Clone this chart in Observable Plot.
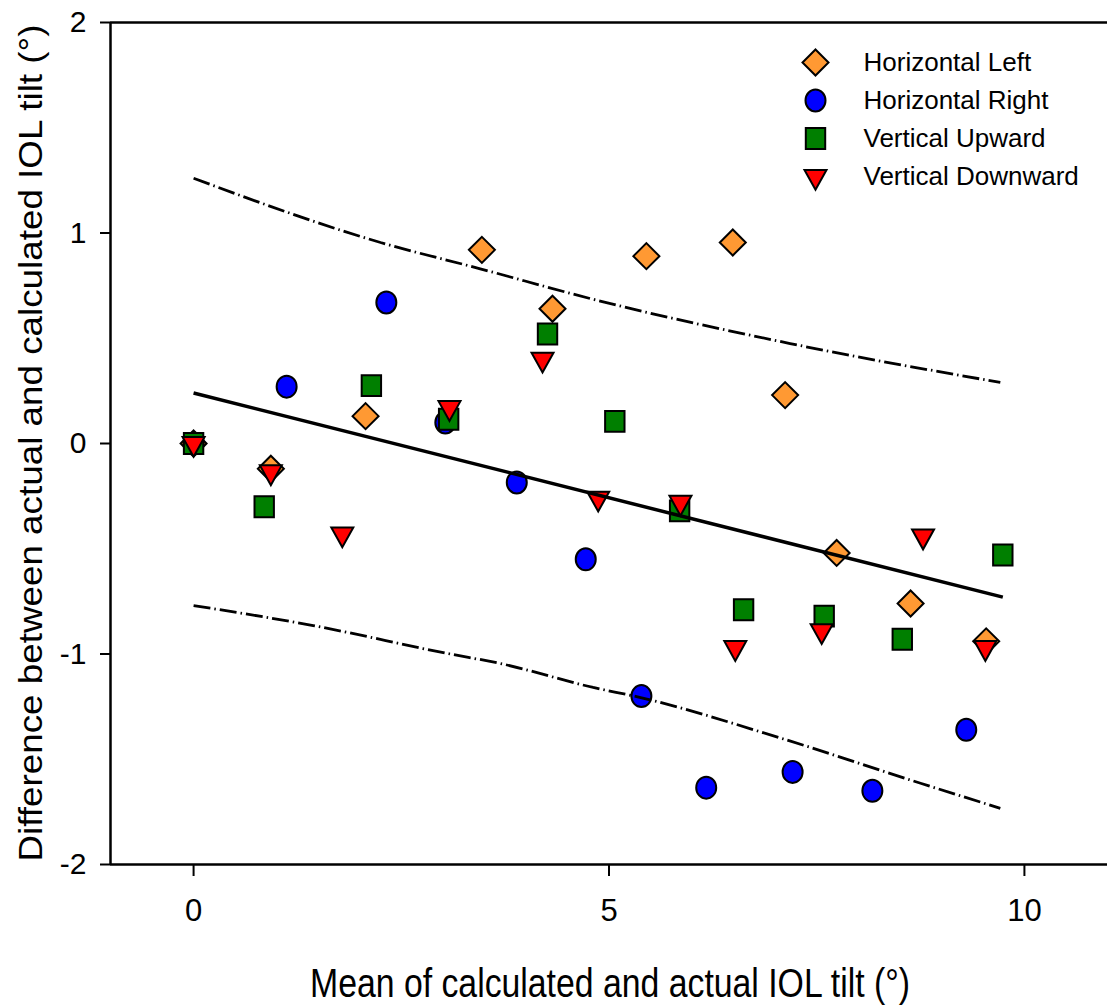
<!DOCTYPE html>
<html>
<head>
<meta charset="utf-8">
<script src="https://cdn.jsdelivr.net/npm/d3@7"></script>
<script src="https://cdn.jsdelivr.net/npm/@observablehq/plot@0.6"></script>
<style>
html, body { margin: 0; padding: 0; background: #fff; }
#chart { width: 1107px; height: 1005px; }
</style>
</head>
<body>
<div id="chart"></div>
<script>
// ---- data ----
const seriesNames = ["Horizontal Left", "Horizontal Right", "Vertical Upward", "Vertical Downward"];
const seriesColors = ["#FF9933", "#0000FF", "#007F00", "#FF0000"];

const hlX = [0, 0.93, 2.07, 3.47, 4.32, 5.45, 6.49, 7.12, 7.74, 8.63, 9.54];
const hlY = [0, -0.12, 0.13, 0.92, 0.64, 0.89, 0.955, 0.23, -0.52, -0.76, -0.94];

const hrX = [0, 1.12, 2.32, 3.03, 3.89, 4.72, 5.39, 6.17, 7.21, 8.17, 9.30];
const hrY = [0, 0.27, 0.67, 0.10, -0.185, -0.55, -1.20, -1.635, -1.56, -1.65, -1.36];

const vuX = [0, 0.85, 2.14, 3.07, 4.26, 5.07, 5.85, 6.62, 7.59, 8.53, 9.74];
const vuY = [0, -0.30, 0.275, 0.115, 0.52, 0.105, -0.32, -0.79, -0.82, -0.93, -0.53];

const vdX = [0, 0.93, 1.79, 3.08, 4.20, 4.87, 5.86, 6.52, 7.56, 8.78, 9.53];
const vdY = [0, -0.135, -0.43, 0.17, 0.40, -0.26, -0.28, -0.97, -0.89, -0.44, -0.97];

const regX = [0, 9.74];
const regY = [0.24, -0.73];

const upX = [0, 2.25, 3.45, 4.81, 7.18, 9.71];
const upY = [1.26, 0.955, 0.83, 0.685, 0.475, 0.29];

const loX = [0, 1.44, 3.06, 3.69, 4.81, 5.38, 7.07, 8.75, 9.71];
const loY = [-0.77, -0.865, -0.998, -1.045, -1.159, -1.207, -1.40, -1.614, -1.733];

const xTicks = [0, 5, 10];
const yTicks = [-2, -1, 0, 1, 2];
const xTitle = "Mean of calculated and actual IOL tilt (°)";
const yTitle = "Difference between actual and calculated IOL tilt (°)";

// ---- symbols ----
const symDiamond = { draw(c, s) { const r = Math.sqrt(s / Math.PI); c.moveTo(0, -r); c.lineTo(r, 0); c.lineTo(0, r); c.lineTo(-r, 0); c.closePath(); } };
const symEllipse = { draw(c, s) { const rx = Math.sqrt(s / Math.PI), ry = rx * 1.1, k = 0.5523;
  c.moveTo(rx, 0);
  c.bezierCurveTo(rx, k * ry, k * rx, ry, 0, ry);
  c.bezierCurveTo(-k * rx, ry, -rx, k * ry, -rx, 0);
  c.bezierCurveTo(-rx, -k * ry, -k * rx, -ry, 0, -ry);
  c.bezierCurveTo(k * rx, -ry, rx, -k * ry, rx, 0);
  c.closePath(); } };
const symSquare = { draw(c, s) { const r = Math.sqrt(s / Math.PI), h = r * 1.08; c.moveTo(-r, -h); c.lineTo(r, -h); c.lineTo(r, h); c.lineTo(-r, h); c.closePath(); } };
const symTriDown = { draw(c, s) { const r = Math.sqrt(s / Math.PI), h = r * 1.8; c.moveTo(-r, -h / 3); c.lineTo(r, -h / 3); c.lineTo(0, 2 * h / 3); c.closePath(); } };

const symbols = [symDiamond, symEllipse, symSquare, symTriDown];
const sizes = [13, 10, 9.7, 11];
const seriesXs = [hlX, hrX, vuX, vdX];
const seriesYs = [hlY, hrY, vuY, vdY];

const toRows = (xs, ys) => xs.map((x, i) => ({ x, y: ys[i] }));

const font = "'Liberation Sans', Arial, Helvetica, sans-serif";
const narrow = "'Liberation Sans Narrow', 'Arial Narrow', 'Liberation Sans', Arial, sans-serif";

const marks = [];
// frame lines
marks.push(Plot.ruleY([-2, 2], { stroke: "black", strokeWidth: 2.5 }));
marks.push(Plot.ruleX([-1], { stroke: "black", strokeWidth: 2.5 }));
// axes
marks.push(Plot.axisX(xTicks, { tickSize: 12, tickPadding: 22, fontSize: 31, fontFamily: narrow, strokeWidth: 2, label: null, tickFormat: d => String(d) }));
marks.push(Plot.axisY(yTicks, { tickSize: 10, tickPadding: 14, fontSize: 30, fontFamily: narrow, strokeWidth: 2, label: null, tickFormat: d => String(d) }));
// points
seriesNames.forEach((name, i) => {
  marks.push(Plot.dot(toRows(seriesXs[i], seriesYs[i]), {
    x: "x", y: "y", symbol: symbols[i], r: sizes[i],
    fill: seriesColors[i], stroke: "black", strokeWidth: 2
  }));
});
// regression and limits
marks.push(Plot.line(toRows(regX, regY), { x: "x", y: "y", stroke: "black", strokeWidth: 3.5, strokeLinecap: "butt" }));
const dashOpts = { x: "x", y: "y", stroke: "black", strokeWidth: 2.8, curve: "monotone-x", strokeDasharray: "17,4,1.5,4", strokeLinecap: "butt", strokeLinejoin: "miter" };
marks.push(Plot.line(toRows(upX, upY), dashOpts));
marks.push(Plot.line(toRows(loX, loY), dashOpts));
// legend (inside frame)
seriesNames.forEach((name, i) => {
  marks.push(Plot.dot([name], {
    frameAnchor: "top-left", dx: 705, dy: 40 + 38 * i,
    symbol: symbols[i], r: sizes[i], fill: seriesColors[i], stroke: "black", strokeWidth: 2
  }));
  marks.push(Plot.text([name], {
    frameAnchor: "top-left", dx: 753, dy: 40 + 38 * i, text: d => d,
    textAnchor: "start", lineAnchor: "middle", fontSize: 26, fontFamily: font, fill: "black"
  }));
});

const chart = Plot.plot({
  width: 1107,
  height: 1005,
  marginLeft: 110,
  marginTop: 22,
  marginBottom: 141,
  marginRight: 0,
  x: { domain: [-1, 11] },
  y: { domain: [-2, 2] },
  style: { fontFamily: font, background: "white", color: "black", overflow: "visible" },
  marks
});

const svg = d3.select(chart);
// y-axis title
svg.append("text")
  .attr("transform", "translate(42,443) rotate(-90)")
  .attr("text-anchor", "middle")
  .attr("font-family", font)
  .attr("font-size", 34)
  .attr("fill", "black")
  .attr("textLength", 837)
  .attr("lengthAdjust", "spacingAndGlyphs")
  .text(yTitle);
// x-axis title
svg.append("text")
  .attr("x", 610).attr("y", 997)
  .attr("text-anchor", "middle")
  .attr("font-family", font)
  .attr("font-size", 40)
  .attr("fill", "black")
  .attr("textLength", 600)
  .attr("lengthAdjust", "spacingAndGlyphs")
  .text(xTitle);

document.getElementById("chart").appendChild(chart);
</script>
</body>
</html>
